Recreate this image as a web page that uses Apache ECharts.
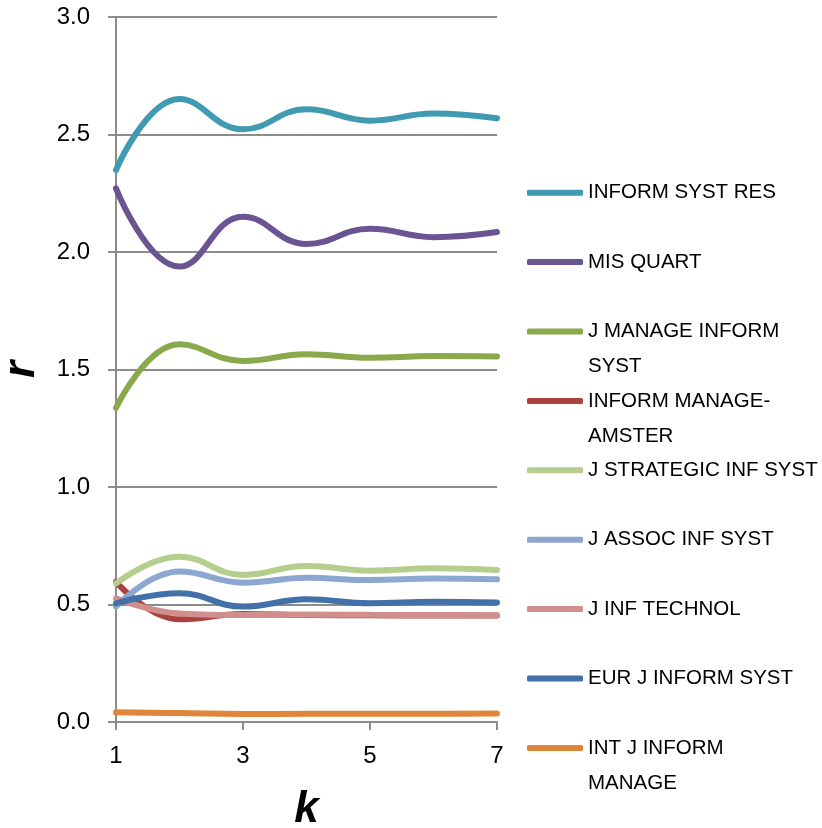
<!DOCTYPE html>
<html>
<head>
<meta charset="utf-8">
<script src="https://cdn.jsdelivr.net/npm/echarts@6/dist/echarts.min.js"></script>
<style>html,body{margin:0;padding:0;background:#fff;}#c{width:822px;height:828px;}</style>
</head>
<body>
<div id="c"></div>
<script>
const categories = ['1','2','3','4','5','6','7'];
const seriesNames = ['INFORM SYST RES','MIS QUART','J MANAGE INFORM SYST','INFORM MANAGE-AMSTER','J STRATEGIC INF SYST','J ASSOC INF SYST','J INF TECHNOL','EUR J INFORM SYST','INT J INFORM MANAGE'];
const legendLabels = ['INFORM SYST RES','MIS QUART','J MANAGE INFORM\nSYST','INFORM MANAGE-\nAMSTER','J STRATEGIC INF SYST','J ASSOC INF SYST','J INF TECHNOL','EUR J INFORM SYST','INT J INFORM\nMANAGE'];
const informSystRes = [2.349, 2.651, 2.522, 2.607, 2.559, 2.589, 2.569];
const misQuart = [2.271, 1.938, 2.150, 2.034, 2.099, 2.063, 2.085];
const jManageInformSyst = [1.336, 1.607, 1.536, 1.565, 1.550, 1.557, 1.555];
const informManageAmster = [0.597, 0.437, 0.460, 0.455, 0.454, 0.453, 0.453];
const jStrategicInfSyst = [0.590, 0.703, 0.626, 0.664, 0.644, 0.654, 0.647];
const jAssocInfSyst = [0.491, 0.640, 0.593, 0.614, 0.604, 0.611, 0.607];
const jInfTechnol = [0.526, 0.462, 0.455, 0.457, 0.456, 0.455, 0.454];
const eurJInformSyst = [0.505, 0.548, 0.491, 0.522, 0.505, 0.512, 0.509];
const intJInformManage = [0.041, 0.038, 0.034, 0.035, 0.035, 0.035, 0.036];
const yTicks = ['0.0','0.5','1.0','1.5','2.0','2.5','3.0'];

const allData = [informSystRes, misQuart, jManageInformSyst, informManageAmster, jStrategicInfSyst, jAssocInfSyst, jInfTechnol, eurJInformSyst, intJInformManage];
const colors = ['#3f9ab2','#6a5492','#89a94c','#aa4340','#b5cd8d','#8da8d0','#d08f8d','#4270a8','#e0853a'];

const grey = '#8c8c8c';
const lh = 35;
const legendY0 = 192.7, legendStep = 69.4;

const series = seriesNames.map((n, i) => ({
  name: n,
  type: 'line',
  data: allData[i],
  smooth: 0.45,
  symbol: 'none',
  color: colors[i],
  itemStyle: { color: colors[i] },
  lineStyle: { width: 6, color: colors[i], cap: 'round' },
  z: 2 + i
}));

const legends = seriesNames.map((n, i) => {
  const twoLine = legendLabels[i].indexOf('\n') >= 0;
  const y = legendY0 + legendStep * i;
  return {
    left: 527,
    top: twoLine ? y - 1.5 * lh : y - lh / 2,
    orient: 'vertical',
    padding: 0,
    icon: 'roundRect',
    itemWidth: 56,
    itemHeight: 6,
    itemGap: 0,
    data: [n],
    formatter: () => (twoLine ? '\n' : '') + legendLabels[i],
    textStyle: { fontFamily: 'Liberation Sans', fontSize: 20.5, color: '#000', lineHeight: lh, padding: [0, 0, 0, 0] },
    selectedMode: false
  };
});

const chart = echarts.init(document.getElementById('c'), null, { renderer: 'canvas' });
chart.setOption({
  animation: false,
  backgroundColor: '#fff',
  grid: { left: 116, right: 325, top: 17, bottom: 106, containLabel: false, outerBoundsMode: 'none' },
  legend: legends,
  xAxis: {
    type: 'category',
    data: categories,
    boundaryGap: false,
    name: 'k',
    nameLocation: 'middle',
    nameGap: 66,
    nameTextStyle: { fontFamily: 'Liberation Sans', fontSize: 44, fontWeight: 'bold', fontStyle: 'italic', color: '#000' },
    axisLine: { lineStyle: { color: grey, width: 2 } },
    axisTick: { show: true, interval: 1, length: 8, alignWithLabel: true, lineStyle: { color: grey, width: 2 } },
    axisLabel: { interval: 1, margin: 22, fontFamily: 'Liberation Sans', fontSize: 24, color: '#000' },
    splitLine: { show: false }
  },
  yAxis: {
    type: 'value',
    min: 0, max: 3, interval: 0.5,
    name: 'r',
    nameLocation: 'middle',
    nameGap: 72,
    nameRotate: 90,
    nameTextStyle: { fontFamily: 'Liberation Sans', fontSize: 44, fontWeight: 'bold', fontStyle: 'italic', color: '#000' },
    axisLine: { show: true, lineStyle: { color: grey, width: 2 } },
    axisTick: { show: true, length: 8, lineStyle: { color: grey, width: 2 } },
    axisLabel: { margin: 26, fontFamily: 'Liberation Sans', fontSize: 24, color: '#000', formatter: (v) => yTicks[Math.round(v / 0.5)] },
    splitLine: { show: true, lineStyle: { color: grey, width: 2 } }
  },
  series: series
});
</script>
</body>
</html>
